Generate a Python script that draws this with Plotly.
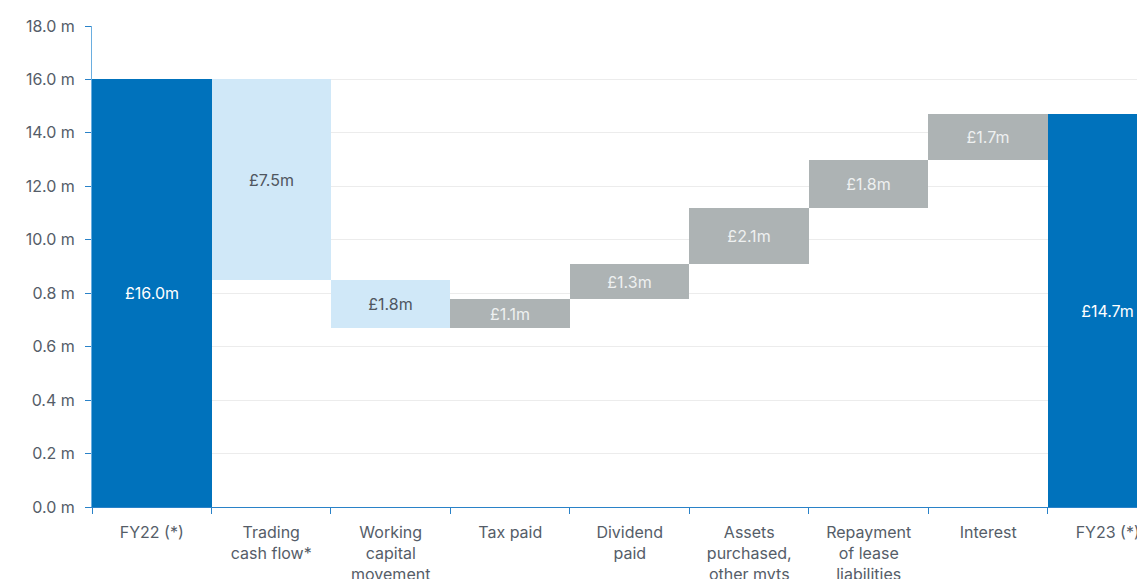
import plotly.graph_objects as go

# Cash bridge FY22 -> FY23 (GBP millions)
categories = [
    "FY22 (*)",
    "Trading<br>cash flow*",
    "Working<br>capital<br>movement",
    "Tax paid",
    "Dividend<br>paid",
    "Assets<br>purchased,<br>other mvts",
    "Repayment<br>of lease<br>liabilities",
    "Interest",
    "FY23 (*)",
]
opening_cash = 16.0
movements = [-7.5, -1.8, 1.1, 1.3, 2.1, 1.8, 1.7]
closing_cash = 14.7

y_tick_values = [0, 2, 4, 6, 8, 10, 12, 14, 16, 18]
y_tick_labels = ["0.0 m", "0.2 m", "0.4 m", "0.6 m", "0.8 m",
                 "10.0 m", "12.0 m", "14.0 m", "16.0 m", "18.0 m"]

DARK_BLUE = "#0072bc"
LIGHT_BLUE = "#d0e8f8"
GREY = "#adb3b4"
LABEL_GREY = "#555d68"

# floating bars: base + height for every step
bases, heights, colors, text_colors = [0.0], [opening_cash], [DARK_BLUE], ["#ffffff"]
running = opening_cash
for i, m in enumerate(movements):
    start = running
    running = round(running + m, 2)
    bases.append(min(start, running))
    heights.append(abs(m))
    if i < 2:
        colors.append(LIGHT_BLUE)
        text_colors.append("#4f5660")
    else:
        colors.append(GREY)
        text_colors.append("#eef0f0")
bases.append(0.0)
heights.append(closing_cash)
colors.append(DARK_BLUE)
text_colors.append("#ffffff")

labels = [f"£{h:.1f}m" for h in heights]

fig = go.Figure(
    go.Bar(
        x=categories,
        y=heights,
        base=bases,
        marker=dict(color=colors, line=dict(width=0)),
        text=labels,
        textposition="inside",
        insidetextanchor="middle",
        textfont=dict(family="Inter", size=16, color=text_colors),
        hoverinfo="skip",
    )
)

fig.update_layout(
    width=1137,
    height=579,
    autosize=False,
    margin=dict(l=92, r=0, t=26, b=72),
    paper_bgcolor="white",
    plot_bgcolor="white",
    bargap=0,
    showlegend=False,
    font=dict(family="Inter", size=16, color=LABEL_GREY),
    uniformtext=dict(minsize=16, mode="show"),
)

fig.update_xaxes(
    type="category",
    range=[-0.5, 8.245],
    automargin=False,
    tickson="boundaries",
    ticks="outside",
    ticklen=6,
    tickcolor="#2a82c8",
    showline=True,
    linecolor="#2a82c8",
    linewidth=1,
    showgrid=False,
    ticklabelstandoff=11,
    tickfont=dict(family="Inter", size=16, color=LABEL_GREY),
)

fig.update_yaxes(
    range=[0, 18],
    automargin=False,
    tickvals=y_tick_values,
    ticktext=y_tick_labels,
    ticks="outside",
    ticklen=6,
    tickcolor="#2a82c8",
    showline=True,
    linecolor="#6aaee0",
    linewidth=1,
    showgrid=True,
    gridcolor="#ececec",
    gridwidth=1,
    zeroline=False,
    ticklabelstandoff=7,
    tickfont=dict(family="Inter", size=16, color=LABEL_GREY),
)

fig.write_html("out.html")
